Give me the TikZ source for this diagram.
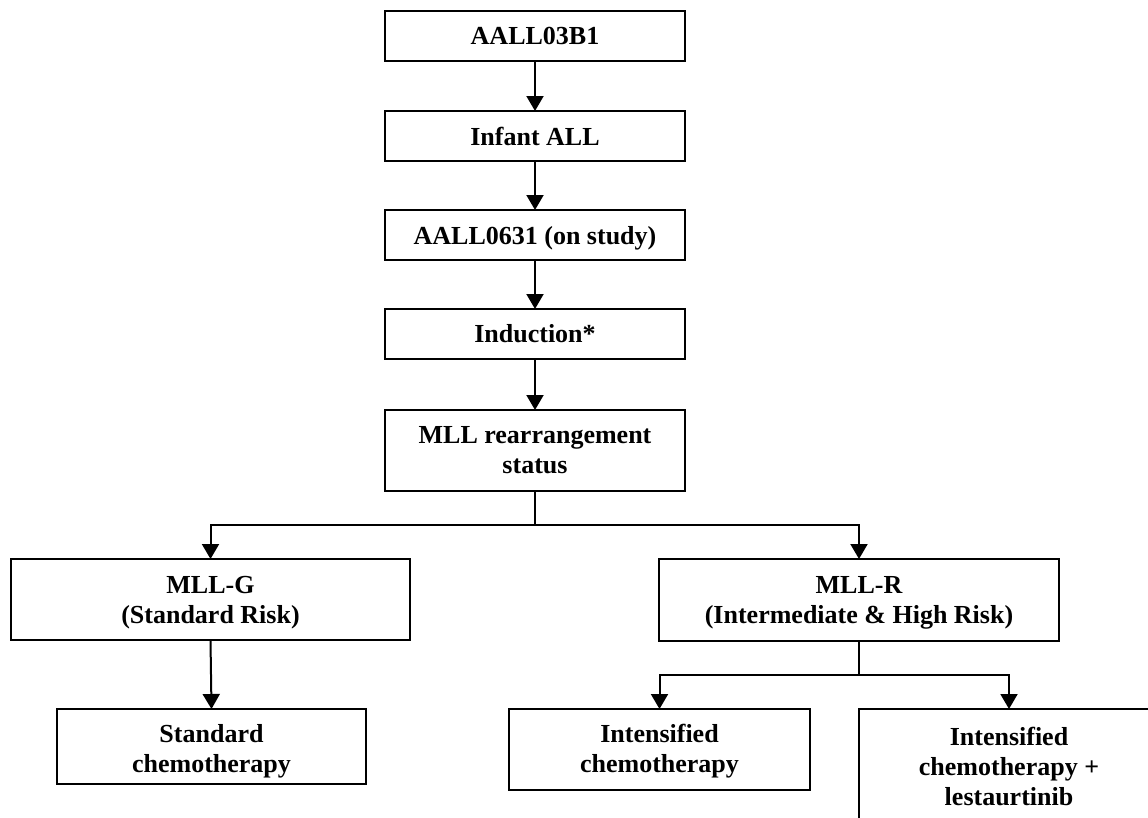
\documentclass[tikz,border=0pt]{standalone}
\usepackage{fontspec}
\setmainfont{Liberation Serif}
\usetikzlibrary{arrows.meta}
\begin{document}
\begin{tikzpicture}[x=1pt,y=-1pt,
  flowbox/.style={draw=black, line width=2pt, fill=white, inner sep=0pt, outer sep=0pt,
    align=center, font=\fontsize{26}{30}\selectfont\bfseries},
  flowtext/.style={inner sep=0pt, align=center, font=\fontsize{26}{30}\selectfont\bfseries},
  flowarrow/.style={line width=2pt, -{Triangle[length=15pt,width=17pt]}},
  flowline/.style={line width=2pt}]
\useasboundingbox (0,0) rectangle (1148,817);
\clip (0,0) rectangle (1148,817);
\fill[white] (0,0) rectangle (1148,817);
\node[flowbox, minimum width=300pt, minimum height=50pt] (n1) at (535,36) {AALL03B1};
\node[flowbox, minimum width=300pt, minimum height=50pt] (n2) at (535,136) {Infant ALL};
\node[flowbox, minimum width=300pt, minimum height=50pt, text depth=0pt] (n3) at (535,235) {AALL0631 (on study)};
\node[flowbox, minimum width=300pt, minimum height=50pt] (n4) at (535,334) {Induction*};
\node[flowbox, minimum width=300pt, minimum height=81pt] (n5) at (535,450.5) {MLL rearrangement\\status};
\node[flowbox, minimum width=399pt, minimum height=81pt] (mllg) at (210.5,599.5) {};
\node[flowtext] (mllgtext) at ([yshift=-3pt]mllg.center) {MLL-G\\(Standard Risk)};
\node[flowbox, minimum width=400pt, minimum height=82pt] (mllr) at (859,600) {};
\node[flowtext] (mllrtext) at ([yshift=-3pt]mllr.center) {MLL-R\\(Intermediate \& High Risk)};
\node[flowbox, minimum width=309pt, minimum height=75pt] (std) at (211.5,746.5) {};
\node[flowtext] (stdtext) at ([yshift=-5pt]std.center) {Standard\\chemotherapy};
\node[flowbox, minimum width=301pt, minimum height=81pt] (int) at (659.5,749.5) {};
\node[flowtext] (inttext) at ([yshift=-2pt]int.center) {Intensified\\chemotherapy};
\node[flowbox, minimum width=300pt, minimum height=118pt] (intl) at (1009,768) {};
\node[flowtext] (intltext) at ([yshift=2pt]intl.center) {Intensified\\chemotherapy +\\lestaurtinib};
\coordinate (split1) at (535,525);
\coordinate (split2) at (859,675);
\draw[flowarrow] (n1.south) -- (n2.north);
\draw[flowarrow] (n2.south) -- (n3.north);
\draw[flowarrow] (n3.south) -- (n4.north);
\draw[flowarrow] (n4.south) -- (n5.north);
\draw[flowline] (n5.south) -- (split1);
\draw[flowarrow] (split1) -| (mllg.north);
\draw[flowarrow] (split1) -| (mllr.north);
\draw[flowarrow] (mllg.south) -- (std.north);
\draw[flowline] (mllr.south) -- (split2);
\draw[flowarrow] (split2) -| (int.north);
\draw[flowarrow] (split2) -| (intl.north);
\end{tikzpicture}
\end{document}
